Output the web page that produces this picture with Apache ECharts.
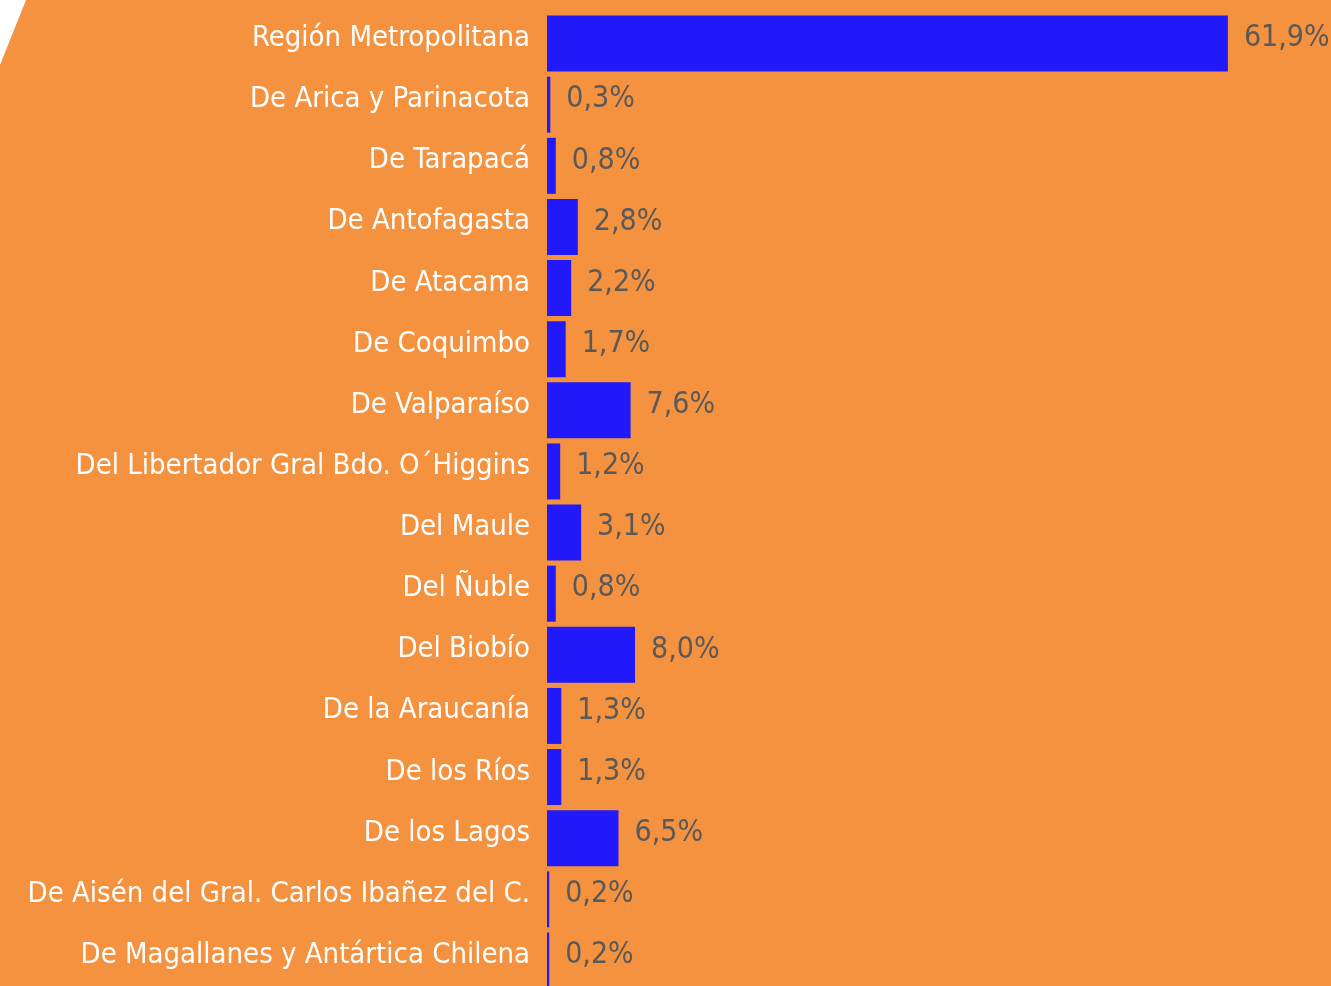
<!DOCTYPE html>
<html>
<head>
<meta charset="utf-8">
<script src="https://cdn.jsdelivr.net/npm/echarts@6/dist/echarts.min.js"></script>
<style>
  html, body { margin: 0; padding: 0; background: #f4923f; }
  #chart { width: 1331px; height: 986px; }
</style>
</head>
<body>
<div id="chart"></div>
<script>
// regions, top to bottom
const regions = [
    "Región Metropolitana",
    "De Arica y Parinacota",
    "De Tarapacá",
    "De Antofagasta",
    "De Atacama",
    "De Coquimbo",
    "De Valparaíso",
    "Del Libertador Gral Bdo. O´Higgins",
    "Del Maule",
    "Del Ñuble",
    "Del Biobío",
    "De la Araucanía",
    "De los Ríos",
    "De los Lagos",
    "De Aisén del Gral. Carlos Ibañez del C.",
    "De Magallanes y Antártica Chilena",
];

// share of total, percent
const shares = [61.9, 0.3, 0.8, 2.8, 2.2, 1.7, 7.6, 1.2, 3.1, 0.8, 8.0, 1.3, 1.3, 6.5, 0.2, 0.2];

const font = "'Liberation Sans Narrow', 'DejaVu Sans Condensed', sans-serif";

const chart = echarts.init(document.getElementById("chart"));

chart.setOption({
    backgroundColor: "#f4923f",
    animation: false,
    graphic: [
        {
            type: "polygon",
            shape: { points: [[0, 0], [26, 0], [0, 65]] },
            style: { fill: "#ffffff" },
        },
    ],
    grid: {
        left: 547,
        top: 13,
        width: 770,
        height: 978,
        outerBoundsMode: "none",
        containLabel: false,
    },
    xAxis: {
        type: "value",
        min: 0,
        max: 70,
        show: false,
    },
    yAxis: {
        type: "category",
        inverse: true,
        data: regions,
        axisLine: { show: false },
        axisTick: { show: false },
        axisLabel: {
            margin: 17,
            formatter: (v) => `{r|${v}}`,
            rich: {
                r: {
                    color: "#ffffff",
                    fontFamily: font,
                    fontSize: 29,
                    padding: [0, 0, 10, 0],
                },
            },
        },
    },
    series: [
        {
            type: "bar",
            data: shares,
            barWidth: 56,
            itemStyle: { color: "#2219fb" },
            label: {
                show: true,
                position: "right",
                distance: 16,
                offset: [0, -5],
                color: "#595959",
                fontFamily: font,
                fontSize: 30,
                formatter: (p) => p.value.toFixed(1).replace(".", ",") + "%",
            },
        },
    ],
});
</script>
</body>
</html>
